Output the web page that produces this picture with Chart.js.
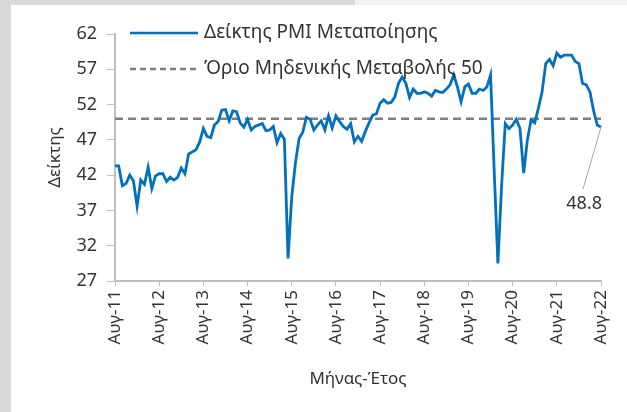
<!DOCTYPE html>
<html>
<head>
<meta charset="utf-8">
<script src="https://cdn.jsdelivr.net/npm/chart.js@4.4.1/dist/chart.umd.min.js"></script>
<style>
  html, body { margin: 0; padding: 0; background: #ffffff; }
  #wrap { position: relative; width: 627px; height: 412px; overflow: hidden; }
  #leftStrip { position: absolute; left: 0; top: 0; width: 11px; height: 412px; background: #d9d9d9; }
  #topStrip { position: absolute; left: 0; top: 0; width: 355px; height: 5px; background: #d9d9d9; }
  #topStrip2 { position: absolute; left: 355px; top: 0; width: 272px; height: 5px; background: #f2f2f2; }
  canvas { position: absolute; left: 0; top: 0; }
</style>
</head>
<body>
<div id="wrap">
  <div id="leftStrip"></div>
  <div id="topStrip"></div>
  <div id="topStrip2"></div>
  <canvas id="myChart" width="627" height="412"></canvas>
</div>
<script>
// months from Aug-11 to Aug-22
let monthNames = ["Ιαν", "Φεβ", "Μαρ", "Απρ", "Μαϊ", "Ιουν", "Ιουλ", "Αυγ", "Σεπ", "Οκτ", "Νοε", "Δεκ"];
let startMonth = 7, startYear = 11, monthCount = 133;

let pmiValues = [
    43.3, 43.3, 40.5, 40.8, 42.0, 41.2, 37.6, 41.3, 40.7, 43.1, 40.1, 41.9,
    42.2, 42.2, 41.1, 41.7, 41.3, 41.7, 43.0, 42.2, 45.0, 45.3, 45.6, 46.7,
    48.6, 47.5, 47.3, 49.1, 49.6, 51.2, 51.3, 49.7, 51.1, 51.0, 49.4, 48.8,
    49.9, 48.4, 48.9, 49.1, 49.3, 48.3, 48.4, 48.9, 46.6, 47.9, 47.1, 30.2,
    38.9, 43.7, 47.2, 48.1, 50.2, 49.9, 48.4, 49.1, 49.7, 48.4, 50.4, 48.7,
    50.4, 49.6, 48.9, 48.5, 49.3, 46.7, 47.5, 46.8, 48.2, 49.4, 50.5, 50.7,
    52.2, 52.7, 52.2, 52.3, 53.1, 55.0, 55.9, 55.0, 53.0, 54.2, 53.6, 53.6,
    53.8, 53.6, 53.2, 54.0, 53.8, 53.7, 54.2, 54.8, 56.2, 54.5, 52.4, 54.5,
    54.9, 53.6, 53.6, 54.2, 54.0, 54.5, 56.2, 42.5, 29.5, 40.5, 49.3, 48.6,
    49.1, 49.9, 48.6, 42.3, 47.0, 49.8, 49.4, 51.5, 53.8, 57.8, 58.4, 57.5,
    59.3, 58.7, 59.0, 59.0, 59.0, 58.1, 57.8, 55.0, 54.8, 53.8, 51.1, 49.1,
    48.8
];
let thresholdValue = 50;
let yTicks = [27, 32, 37, 42, 47, 52, 57, 62];

let pmiLabel = "Δείκτης PMI Μεταποίησης";
let thresholdLabel = "Όριο Μηδενικής Μεταβολής 50";
let yTitle = "Δείκτης";
let xTitle = "Μήνας-Έτος";

let months = [];
for (let i = 0; i < monthCount; i++) {
    let m = (startMonth + i) % 12;
    let y = startYear + Math.floor((startMonth + i) / 12);
    months.push(monthNames[m] + "-" + y);
}

let fontFamily = "'Noto Sans', sans-serif";
let textColor = "#333333";
let axisColor = "#bfbfbf";
let blue = "#0070c0";
let dashGray = "#7f7f7f";

let overlayPlugin = {
    id: "overlay",
    afterDraw(chart) {
        let ctx = chart.ctx;
        ctx.save();
        // legend
        ctx.font = "19px " + fontFamily;
        ctx.fillStyle = textColor;
        ctx.textBaseline = "middle";
        ctx.lineWidth = 2.5;

        ctx.strokeStyle = blue;
        ctx.beginPath();
        ctx.moveTo(130, 33);
        ctx.lineTo(198, 33);
        ctx.stroke();
        ctx.fillText(pmiLabel, 204, 33);

        ctx.strokeStyle = dashGray;
        ctx.setLineDash([6, 4]);
        ctx.beginPath();
        ctx.moveTo(130, 69);
        ctx.lineTo(198, 69);
        ctx.stroke();
        ctx.setLineDash([]);
        ctx.fillText(thresholdLabel, 204, 69);

        // last value annotation
        let xs = chart.scales.x, ys = chart.scales.y;
        let last = pmiValues.length - 1;
        let px = xs.getPixelForValue(last);
        let py = ys.getPixelForValue(pmiValues[last]);
        ctx.strokeStyle = "#a6a6a6";
        ctx.lineWidth = 1;
        ctx.beginPath();
        ctx.moveTo(px, py);
        ctx.lineTo(px - 18, py + 62);
        ctx.stroke();
        ctx.font = "18px " + fontFamily;
        ctx.textAlign = "right";
        ctx.fillText(pmiValues[last].toFixed(1), px + 1, py + 77);
        ctx.restore();
    }
};

let pmiChart = new Chart("myChart", {
    type: "line",
    data: {
        labels: months,
        datasets: [{
            label: pmiLabel,
            data: pmiValues,
            borderColor: blue,
            borderWidth: 2.8,
            pointRadius: 0,
            tension: 0,
            order: 1
        }, {
            label: thresholdLabel,
            data: months.map(() => thresholdValue),
            borderColor: dashGray,
            borderWidth: 2.5,
            borderDash: [8, 5],
            pointRadius: 0,
            order: 2
        }]
    },
    options: {
        responsive: false,
        animation: false,
        layout: { padding: { left: 0, right: 26, top: 34, bottom: 0 } },
        plugins: {
            legend: { display: false },
            tooltip: { enabled: false }
        },
        scales: {
            x: {
                afterFit: function (scale) { scale.height = 131; },
                grid: {
                    display: true,
                    drawOnChartArea: false,
                    drawTicks: true,
                    tickLength: 5,
                    tickColor: function (c) { return c.index % 12 === 0 ? axisColor : "rgba(0,0,0,0)"; }
                },
                border: { display: true, color: axisColor, width: 2 },
                ticks: {
                    autoSkip: false,
                    maxRotation: 90,
                    minRotation: 90,
                    padding: 4,
                    color: textColor,
                    font: { family: fontFamily, size: 17 },
                    callback: function (val, index) { return index % 12 === 0 ? months[index] : ""; }
                },
                title: {
                    display: true,
                    text: xTitle,
                    color: textColor,
                    font: { family: fontFamily, size: 17 },
                    padding: { top: 0, bottom: 23 }
                }
            },
            y: {
                min: yTicks[0],
                max: yTicks[yTicks.length - 1],
                afterFit: function (scale) { scale.width = 115; },
                afterBuildTicks: function (scale) { scale.ticks = yTicks.map(v => ({ value: v })); },
                grid: {
                    display: true,
                    drawOnChartArea: false,
                    drawTicks: true,
                    tickLength: 8,
                    tickColor: axisColor
                },
                border: { display: true, color: axisColor, width: 2 },
                ticks: {
                    padding: 10,
                    color: textColor,
                    font: { family: fontFamily, size: 18 }
                },
                title: {
                    display: true,
                    text: yTitle,
                    color: textColor,
                    font: { family: fontFamily, size: 17 },
                    padding: { top: 45, bottom: 0 }
                }
            }
        }
    },
    plugins: [overlayPlugin]
});
</script>
</body>
</html>
